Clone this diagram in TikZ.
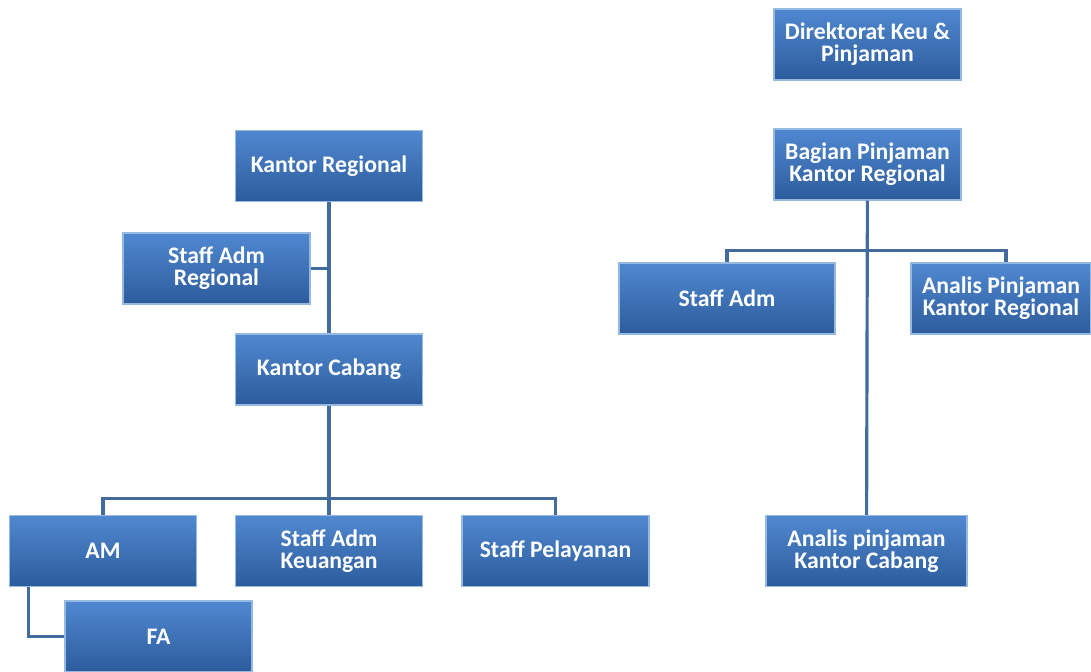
\documentclass[tikz,border=0pt]{standalone}
\usepackage{fontspec}
\setmainfont{Carlito}
\usetikzlibrary{positioning}
\definecolor{boxtop}{RGB}{80, 136, 208}
\definecolor{boxbottom}{RGB}{44, 92, 156}
\definecolor{boxedge}{RGB}{150, 185, 225}
\definecolor{linecolor}{RGB}{66, 108, 160}
\tikzset{
  orgbox/.style={rectangle, minimum width=3.74cm, minimum height=1.42cm, align=center,
    font=\fontsize{13.5}{12.5}\selectfont\bfseries, text=white,
    top color=boxtop, bottom color=boxbottom, draw=boxedge, line width=0.8pt},
  link/.style={draw=linecolor, line width=1.8pt}
}
\begin{document}
\begin{tikzpicture}

  \useasboundingbox (0,0) rectangle (21.82,-13.42);

  % left chart
  \node[orgbox] (kreg) at (6.58,-3.32) {Kantor Regional};
  \node[orgbox] (sadmreg) at (4.33,-5.37) {Staff Adm\\Regional};
  \node[orgbox] (kcab) at (6.58,-7.39) {Kantor Cabang};
  \node[orgbox] (am) at (2.06,-11.02) {AM};
  \node[orgbox] (sadmkeu) at (6.58,-11.02) {Staff Adm\\Keuangan};
  \node[orgbox] (spel) at (11.11,-11.02) {Staff Pelayanan};
  \node[orgbox] (fa) at (3.17,-12.73) {FA};

  % right chart
  \node[orgbox] (dir) at (17.35,-0.89) {Direktorat Keu \&\\Pinjaman};
  \node[orgbox] (bagian) at (17.35,-3.29) {Bagian Pinjaman\\Kantor Regional};
  \node[orgbox, minimum width=4.32cm] (sadm) at (14.54,-5.97) {Staff Adm};
  \node[orgbox, minimum width=3.6cm] (anreg) at (20.02,-5.97) {Analis Pinjaman\\Kantor Regional};
  \node[orgbox, minimum width=4.02cm] (ancab) at (17.33,-11.02) {Analis pinjaman\\Kantor Cabang};

  % connectors, left
  \draw[link] (kreg) -- (kcab);
  \draw[link] (sadmreg.east) -- (sadmreg.east -| kreg.south);
  \draw[link] (kcab.south) -- ++(0,-1.86) coordinate (busL);
  \draw[link] (am.north) |- (busL) -| (spel.north);
  \draw[link] (busL) -- (sadmkeu.north);
  \draw[link] ([xshift=0.4cm]am.south west) |- (fa.west);

  % connectors, right
  \draw[link] (bagian) -- (ancab);
  \draw[link] (bagian.south) -- ++(0,-1.0) coordinate (busR);
  \draw[link] (sadm.north) |- (busR) -| ([xshift=0.1cm]anreg.north);

\end{tikzpicture}
\end{document}
